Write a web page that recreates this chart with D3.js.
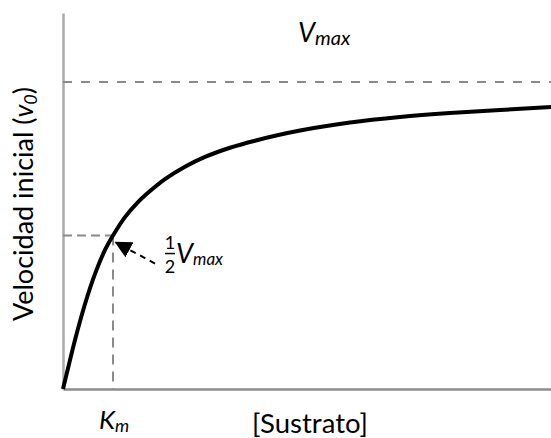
<!DOCTYPE html>
<html>
<head>
<meta charset="utf-8">
<script src="https://cdn.jsdelivr.net/npm/d3@7"></script>
<style>
  body { margin: 0; background: #fff; }
  text { font-family: Lato, "Open Sans", sans-serif; fill: #000; }
</style>
</head>
<body>
<script>
// sustrato (arbitrary units) vs velocidad / Vmax
const sustrato  = [0, 1.02, 2.46, 4.51, 6.56, 8.61, 10.25, 12.7, 15.37, 17.83, 20.9, 25.0, 29.1, 34.22, 39.34, 48.57, 58.81, 69.06, 79.3, 89.55, 100];
const velocidad = [0, 0.067, 0.160, 0.277, 0.375, 0.453, 0.5, 0.560, 0.609, 0.645, 0.684, 0.724, 0.756, 0.786, 0.809, 0.842, 0.868, 0.886, 0.899, 0.909, 0.919];
const km = 10.25;
const vmax = 1;

const width = 551, height = 438;
const margin = {top: 13, right: 0, bottom: 49, left: 63};

const svg = d3.select("body")
  .append("svg")
    .attr("width", width)
    .attr("height", height);

const x = d3.scaleLinear()
  .domain([0, 100])
  .range([margin.left, width - margin.right]);

const y = d3.scaleLinear()
  .domain([0, 1.225])
  .range([height - margin.bottom, margin.top]);

// axes, no ticks
svg.append("g")
  .attr("transform", `translate(0,${y(0)})`)
  .call(d3.axisBottom(x).ticks(0).tickSizeOuter(0))
  .select(".domain")
    .attr("stroke", "#8c8c8c")
    .attr("stroke-width", 2.5);

svg.append("g")
  .attr("transform", `translate(${x(0)},0)`)
  .call(d3.axisLeft(y).ticks(0).tickSizeOuter(0))
  .select(".domain")
    .attr("stroke", "#ababab")
    .attr("stroke-width", 2.5);

// dashed guide lines
const dash = g => g.attr("stroke", "#8a8a8a").attr("stroke-width", 2).attr("stroke-dasharray", "9,9").attr("fill", "none");

svg.append("line")
  .attr("x1", x(0)).attr("x2", x(100))
  .attr("y1", y(vmax)).attr("y2", y(vmax))
  .call(dash);

svg.append("line")
  .attr("x1", x(0)).attr("x2", x(km))
  .attr("y1", y(vmax / 2)).attr("y2", y(vmax / 2))
  .call(dash)
  .attr("stroke-dasharray", "9,5");

svg.append("line")
  .attr("x1", x(km)).attr("x2", x(km))
  .attr("y1", y(vmax / 2)).attr("y2", y(0))
  .call(dash)
  .attr("stroke-dasharray", "10,7");

// the curve
const pts = sustrato.map((s, i) => [s, velocidad[i]]);
svg.append("path")
  .datum(pts)
  .attr("fill", "none")
  .attr("stroke", "#000")
  .attr("stroke-width", 4)
  .attr("d", d3.line()
    .x(d => x(d[0]))
    .y(d => y(d[1]))
    .curve(d3.curveCatmullRom.alpha(0.5)));

// arrow to the half-Vmax point
svg.append("defs").append("marker")
  .attr("id", "head")
  .attr("viewBox", "0 0 10 10")
  .attr("refX", 9).attr("refY", 5)
  .attr("markerWidth", 17).attr("markerHeight", 17)
  .attr("markerUnits", "userSpaceOnUse")
  .attr("orient", "auto")
  .append("path")
    .attr("d", "M0,0L10,5L0,10Z")
    .attr("fill", "#000");

svg.append("line")
  .attr("x1", x(km) + 42).attr("y1", y(vmax / 2) + 28)
  .attr("x2", x(km) + 3).attr("y2", y(vmax / 2) + 7)
  .attr("stroke", "#000")
  .attr("stroke-width", 2)
  .attr("stroke-dasharray", "6,5")
  .attr("marker-end", "url(#head)");

// half Vmax label
const hx = x(km) + 52, hy = y(vmax / 2);
svg.append("text").attr("x", hx + 5).attr("y", hy + 13)
  .attr("text-anchor", "middle").attr("font-size", 18).text("1");
svg.append("line")
  .attr("x1", hx).attr("x2", hx + 10)
  .attr("y1", hy + 18).attr("y2", hy + 18)
  .attr("stroke", "#000").attr("stroke-width", 1.5);
svg.append("text").attr("x", hx + 5).attr("y", hy + 37)
  .attr("text-anchor", "middle").attr("font-size", 18).text("2");
const hv = svg.append("text").attr("x", hx + 11).attr("y", hy + 27)
  .attr("font-size", 27).attr("font-style", "italic");
hv.append("tspan").text("V");
hv.append("tspan").attr("font-size", 17).attr("dy", 2).text("max");

// Vmax label
const tv = svg.append("text").attr("x", 298).attr("y", 42)
  .attr("font-size", 27).attr("font-style", "italic");
tv.append("tspan").text("V");
tv.append("tspan").attr("font-size", 20).attr("dy", 3).text("max");

// Km label
const tk = svg.append("text").attr("x", x(km) + 1).attr("y", 429)
  .attr("text-anchor", "middle").attr("font-size", 26).attr("font-style", "italic");
tk.append("tspan").text("K");
tk.append("tspan").attr("font-size", 18).attr("dy", 3).text("m");

// axis titles
svg.append("text")
  .attr("x", 310).attr("y", 433)
  .attr("text-anchor", "middle")
  .attr("font-size", 27.5)
  .text("[Sustrato]");

const yl = svg.append("text")
  .attr("transform", `translate(33,${204}) rotate(-90)`)
  .attr("text-anchor", "middle")
  .attr("font-size", 27);
yl.append("tspan").text("Velocidad inicial (");
yl.append("tspan").attr("font-style", "italic").text("v");
yl.append("tspan").attr("font-style", "italic").attr("font-size", 18).attr("dy", 4).text("0");
yl.append("tspan").attr("dy", -4).text(")");
</script>
</body>
</html>
